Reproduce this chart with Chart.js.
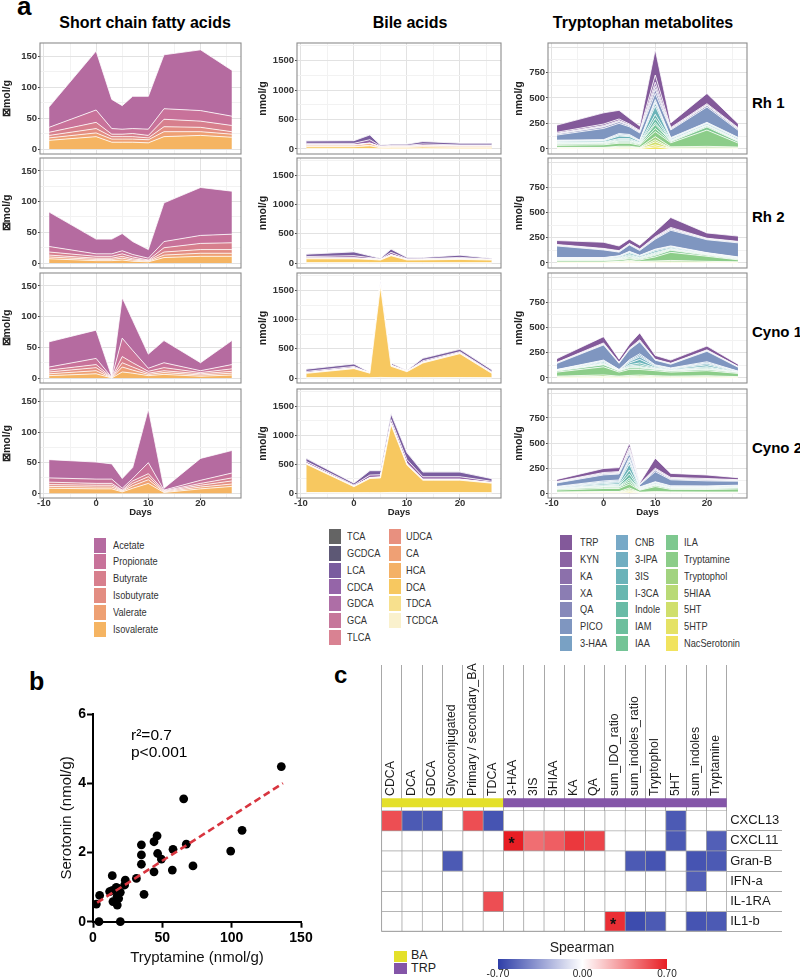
<!DOCTYPE html>
<html><head><meta charset="utf-8">
<script src="https://cdn.jsdelivr.net/npm/chart.js@4.4.1/dist/chart.umd.min.js"></script>
<style>
html,body{margin:0;padding:0;background:#fff;}
body{width:800px;height:978px;position:relative;overflow:hidden;font-family:'Liberation Sans',Arial,Helvetica,sans-serif;}
canvas{position:absolute;}
.t{position:absolute;white-space:nowrap;color:#000;line-height:1;}
.sq{position:absolute;}
</style></head><body>
<script>
// ===================== DATA =====================
const days = [-9, 0, 3, 5, 7, 10, 13, 20, 26];
const monkeyLabels = ['Rh 1', 'Rh 2', 'Cyno 1', 'Cyno 2'];
const groupTitles = ['Short chain fatty acids', 'Bile acids', 'Tryptophan metabolites'];

// Short chain fatty acids (µmol/g), legend order
const scfaNames = ['Acetate','Propionate','Butyrate','Isobutyrate','Valerate','Isovalerate'];
const scfaRh1 = [
  [33,95,47,38,52,53,87,98,74],
  [8,20,9,8,8,10,17,17,15],
  [5,10,4,4,5,4,12,10,10],
  [4,7,4,4,4,3,8,7,4],
  [4,6,5,5,5,5,8,6,5],
  [14,20,11,11,11,10,20,22,19]];
const scfaRh2 = [
  [56,24,24,28,21,14,63,78,70],
  [9,4,4,5,4,3,10,13,14],
  [5,3,3,4,3,1,7,10,11],
  [3,2,2,3,2,1,5,6,6],
  [3,2,2,3,2,1,4,5,5],
  [7,4,4,5,3,2,9,11,11]];
const scfaCyno1 = [
  [41,46,1,66,49,23,36,13,39],
  [5,10,0,30,20,5,8,3,7],
  [3,5,0.5,10,7,3,5,2,4],
  [3,5,0.2,7,5,2,3,2,3],
  [3,5,0.1,8,5,2,3,2,3],
  [4,7,0.2,10,8,4,6,3,5]];
const scfaCyno2 = [
  [30,28,25,16,18,88,3,36,37],
  [7,7,7,3,4,18,1,5,8],
  [4,3,3,1,4,5,1,3,5],
  [3,3,3,1,4,5,1,3,5],
  [3,3,3,1,4,6,1,3,4],
  [8,7,7,2,8,16,1,7,11]];

// Bile acids (nmol/g), legend order
const baNames = ['TCA','GCDCA','LCA','CDCA','GDCA','GCA','TLCA','UDCA','CA','HCA','DCA','TDCA','TCDCA'];
const baRh1 = [
  [2,2,3,1,1,1,2,1,1],[3,3,5,2,2,2,3,2,2],[40,45,80,15,20,20,40,30,30],[25,25,55,12,15,15,25,15,15],
  [3,3,4,2,2,2,3,2,2],[2,2,3,1,1,1,2,1,1],[1,1,1,1,1,1,1,1,1],[2,2,3,1,2,2,2,2,2],
  [20,20,30,10,10,10,15,15,15],[5,5,8,3,4,4,5,5,5],[35,35,50,18,25,25,30,25,25],[2,2,3,1,1,1,2,1,1],[1,1,1,1,1,1,1,1,1]];
const baRh2 = [
  [1,1,1,1,1,1,1,1,1],[3,4,2,2,4,2,2,3,2],[40,65,30,12,55,22,20,38,12],[25,38,18,6,38,12,10,22,6],
  [2,3,2,1,3,1,1,2,1],[1,2,1,1,1,1,1,1,1],[1,1,1,1,1,1,1,1,1],[1,1,1,1,1,1,1,1,1],
  [5,5,4,3,8,3,3,4,3],[4,4,4,3,6,3,3,4,3],[68,68,58,47,118,48,50,58,47],[3,3,3,3,5,3,3,3,3],[1,1,1,1,2,1,1,1,1]];
const baCyno1 = [
  [1,1,1,2,1,1,1,1,1],[2,3,1,5,2,1,3,3,2],[38,42,6,50,28,9,42,40,33],[22,22,2,22,10,4,22,18,16],
  [2,2,1,4,2,1,2,2,2],[1,1,0,2,1,0,1,1,1],[1,1,0,1,1,0,1,1,1],[1,2,0,3,1,1,2,2,1],
  [3,5,2,10,5,3,5,5,3],[3,5,2,10,5,3,5,5,3],[76,155,80,1560,195,104,252,410,76],[3,5,2,8,4,3,4,6,3],[1,1,1,3,2,1,2,2,1]];
const baCyno2 = [
  [2,1,2,2,3,2,2,2,1],[5,3,5,5,8,6,5,5,3],[50,32,75,70,100,120,80,80,45],[30,18,42,38,55,65,42,42,22],
  [3,2,3,3,5,5,3,3,2],[2,1,2,2,3,3,2,2,1],[1,1,1,1,2,2,1,1,1],[2,1,2,2,4,3,2,2,1],
  [5,3,5,5,10,8,5,5,3],[5,3,5,5,10,8,5,5,3],[490,105,245,255,1170,475,215,215,165],[8,5,6,5,10,8,7,7,5],[2,1,1,1,2,1,1,1,1]];

// Tryptophan metabolites (nmol/g), legend order
const trpNames = ['TRP','KYN','KA','XA','QA','PICO','3-HAA','CNB','3-IPA','3IS','I-3CA','Indole','IAM','IAA','ILA','Tryptamine','Tryptophol','5HIAA','5HT','5HTP','NacSerotonin'];
const trpRh1 = [
  [70,110,85,55,45,250,45,100,40],[10,15,15,10,8,70,8,10,8],[5,8,8,5,5,40,5,5,5],[3,5,5,3,3,30,3,3,3],
  [10,15,15,10,8,40,8,15,10],[50,110,100,75,70,60,75,150,70],[5,5,10,8,5,20,5,5,5],[3,3,5,5,3,15,3,3,3],
  [5,5,10,8,5,30,5,5,5],[10,10,25,20,10,80,10,10,10],[5,5,10,10,5,40,5,5,5],[5,5,10,10,5,40,5,5,5],
  [3,3,5,5,3,20,3,3,3],[5,5,10,10,5,40,5,10,5],[10,10,10,10,10,30,10,30,15],[20,25,30,30,20,50,40,160,40],
  [5,5,10,10,5,30,10,15,8],[3,3,5,5,3,20,3,3,3],[3,3,5,5,3,30,3,3,3],[2,2,3,3,2,20,2,2,2],[2,2,3,3,2,20,2,2,2]];
const trpRh2 = [
  [39,61,46,43,37,50,98,52,52],[5,5,5,5,5,8,10,5,5],[3,3,3,3,3,5,5,3,3],[2,2,2,2,2,3,3,2,2],
  [5,5,5,5,5,8,10,5,5],[115,76,36,63,47,99,155,128,139],[3,3,3,5,3,5,5,3,3],[2,2,2,3,2,3,3,2,2],
  [3,3,5,8,5,10,8,3,3],[5,5,8,15,10,15,10,5,5],[3,3,5,10,5,8,5,3,3],[3,3,5,10,5,8,5,3,3],
  [2,2,3,5,3,5,3,2,2],[3,3,5,10,5,8,5,5,3],[5,5,5,8,8,15,20,10,5],[15,15,15,15,15,40,80,50,20],
  [3,3,5,10,5,10,15,10,5],[2,2,3,5,3,3,3,2,2],[2,2,3,5,3,3,3,2,2],[1,1,2,3,2,2,2,1,1],[1,1,2,3,2,2,2,1,1]];
const trpCyno1 = [
  [37,62,31,40,68,37,31,37,21],[4,8,4,6,8,4,4,6,3],[2,4,2,3,4,2,2,3,2],[2,3,2,2,3,2,2,2,1],
  [2,5,2,4,5,2,2,4,2],[61,150,61,100,119,46,37,103,39],[2,6,2,10,15,5,4,10,2],[2,5,2,8,15,5,3,8,2],
  [3,8,3,14,25,8,5,13,3],[3,10,3,18,35,10,7,18,3],[2,6,2,10,20,6,4,10,2],[2,6,2,10,15,6,4,10,2],
  [1,3,1,5,8,3,2,4,1],[1,3,1,5,7,3,2,4,0],[10,20,10,15,15,12,10,12,8],[40,80,40,60,55,50,40,50,32],
  [8,15,8,12,12,10,8,10,6],[4,6,4,5,6,5,4,5,3],[3,5,3,4,5,3,3,3,2],[2,2,2,2,3,2,2,2,1],[1,2,1,2,3,2,1,2,1]];
const trpCyno2 = [
  [20,40,40,40,10,100,40,35,20],[5,8,8,20,3,10,8,8,5],[3,5,5,15,2,5,5,5,3],[2,3,3,10,2,5,3,3,2],
  [5,8,8,20,3,15,8,8,5],[35,60,60,40,20,100,60,50,40],[5,10,10,20,5,5,5,5,5],[3,8,8,15,3,3,3,3,3],
  [5,10,10,30,5,5,5,5,5],[5,12,15,60,5,8,5,5,5],[3,8,10,40,3,5,3,3,3],[3,8,10,40,3,5,3,3,3],
  [2,4,5,20,2,3,2,2,2],[2,4,5,20,2,3,2,2,2],[8,12,12,20,5,12,8,8,10],[20,30,30,40,20,50,25,25,30],
  [4,6,6,15,3,8,5,5,5],[2,3,3,10,2,2,2,2,2],[2,2,2,10,1,2,2,1,1],[1,2,2,8,1,1,1,1,1],[1,2,2,7,1,1,1,1,1]];

// Panel b: serotonin vs tryptamine
const tryptamineX = [2.4,4.8,4.3,12,13.9,13.7,15.6,14.4,16.8,18,17.3,17.5,18.5,19.7,19.7,22.8,23.3,31.3,34.9,34.9,34.9,36.8,44,44,46.2,46.6,49.3,57.7,57.2,65.4,67.3,72.1,99.3,107.5,135.8];
const serotoninY = [0.51,0.76,0,0.87,1.33,0.9,0.93,0.58,0.99,0.96,0.72,0.48,0.67,0,0.85,1.06,1.2,1.25,2.22,1.93,1.66,0.79,2.31,1.44,2.48,1.97,1.81,2.09,1.49,3.55,2.24,1.61,2.04,2.64,4.48];
const fitX = [3, 137];
const fitY = [0.55, 4.0];
const statLines = ['r\u00B2=0.7', 'p<0.001'];

// Panel c: Spearman heatmap
const heatCols = ['CDCA','DCA','GDCA','Glycoconjugated','Primary / secondary_BA','TDCA','3-HAA','3IS','5HIAA','KA','QA','sum_IDO_ratio','sum_indoles_ratio','Tryptophol','5HT','sum_indoles','Tryptamine'];
const heatColGroup = ['BA','BA','BA','BA','BA','BA','TRP','TRP','TRP','TRP','TRP','TRP','TRP','TRP','TRP','TRP','TRP'];
const heatRows = ['CXCL13','CXCL11','Gran-B','IFN-a','IL-1RA','IL1-b'];
const rhoCXCL13 = [0.55,-0.6,-0.6,0,0.55,-0.62,0,0,0,0,0,0,0,0,-0.6,0,0];
const rhoCXCL11 = [0,0,0,0,0,0,0.7,0.45,0.5,0.62,0.58,0,0,0,-0.6,0,-0.58];
const rhoGranB  = [0,0,0,-0.6,0,0,0,0,0,0,0,0,-0.6,-0.62,0,-0.62,-0.6];
const rhoIFNa   = [0,0,0,0,0,0,0,0,0,0,0,0,0,0,0,-0.58,0];
const rhoIL1RA  = [0,0,0,0,0,0.55,0,0,0,0,0,0,0,0,0,0,0];
const rhoIL1b   = [0,0,0,0,0,0,0,0,0,0,0,0.65,-0.65,-0.6,0,-0.62,-0.6];
const sigCells = [['CXCL11','3-HAA'], ['IL1-b','sum_IDO_ratio']];
const scaleTicks = ['-0.70','0.00','0.70'];

// ===================== STYLES / LAYOUT =====================
const FONT = "'Liberation Sans', Arial, Helvetica, sans-serif";
Chart.defaults.font.family = FONT;

const scfaColors = ['#b56ba0','#c8729a','#d77f8d','#e38d82','#eea073','#f5b462'];
const baColors = ['#646464','#5d5875','#7a5d9f','#9565a8','#ae6ea6','#c6779b','#d98292','#e8907f','#efa074','#f4b166','#f7c860','#f7e08d','#faf1cd'];
const trpColors = ['#83599a','#8b64a3','#8c70ab','#8b7db3','#8789ba','#7f96c0','#79a1c4','#77a9c7','#71aec1','#6bb3b9','#68b7b0','#69bba6','#6dbf9d','#74c496','#7ec88f','#8ccd89','#a2d380','#b9da76','#d0df6c','#e5e265','#f1e35f'];

const FRAME_L = [40, 297, 548], FRAME_W = [201, 204, 199], AXIS_W = [40, 41, 36];
const FRAME_T = [43, 158, 273, 389], FRAME_H = [111, 110, 110, 109];
const X_AXIS_H = 20;

function txt(s, x, base, size, o = {}) {
  const d = document.createElement('div');
  d.className = 't';
  d.textContent = s;
  d.style.fontSize = size + 'px';
  d.style.fontWeight = o.bold ? 'bold' : 'normal';
  d.style.fontFamily = o.family || FONT;
  d.style.top = (base - 0.8465 * size) + 'px';
  d.style.left = x + 'px';
  if (o.align === 'center') d.style.transform = 'translateX(-50%)';
  if (o.squeeze) { d.style.transform = 'scaleX(' + o.squeeze + ')'; d.style.transformOrigin = '0 0'; }
  if (o.color) d.style.color = o.color;
  document.body.appendChild(d);
  return d;
}
function box(x, y, w, h, bg) {
  const d = document.createElement('div');
  d.className = 'sq';
  Object.assign(d.style, {left: x + 'px', top: y + 'px', width: w + 'px', height: h + 'px', background: bg});
  document.body.appendChild(d);
  return d;
}
function mkCanvas(left, top, w, h) {
  const c = document.createElement('canvas');
  c.width = w; c.height = h;
  Object.assign(c.style, {left: left + 'px', top: top + 'px', width: w + 'px', height: h + 'px'});
  document.body.appendChild(c);
  return c;
}

const framePlugin = {
  id: 'frame',
  afterDraw(chart) {
    const {ctx, chartArea: a} = chart;
    ctx.save();
    ctx.strokeStyle = '#8c8c8c';
    ctx.lineWidth = 1.1;
    ctx.strokeRect(a.left, a.top, a.right - a.left, a.bottom - a.top);
    ctx.restore();
  }
};

const groups = [
  {names: scfaNames, colors: scfaColors, data: [scfaRh1, scfaRh2, scfaCyno1, scfaCyno2], ymin: -8, ymax: 171, step: 25, major: 50, maxLabel: 150, ytitle: '\u22A0mol/g'},
  {names: baNames, colors: baColors, data: [baRh1, baRh2, baCyno1, baCyno2], ymin: -85, ymax: 1800, step: 250, major: 500, maxLabel: 1500, ytitle: 'nmol/g'},
  {names: trpNames, colors: trpColors, data: [trpRh1, trpRh2, trpCyno1, trpCyno2], ymin: -50, ymax: 1040, step: 125, major: 250, maxLabel: 750, ytitle: 'nmol/g'}
];

function areaChart(col, row) {
  const g = groups[col];
  const last = row === 3;
  const padT = 1, padR = 1;
  const left = FRAME_L[col] - AXIS_W[col];
  const top = FRAME_T[row] - padT;
  const w = AXIS_W[col] + FRAME_W[col] + padR;
  const h = padT + FRAME_H[row] + (last ? X_AXIS_H : 1);
  const cv = mkCanvas(left, top, w, h);
  const series = g.data[row];
  const datasets = [];
  for (let k = g.names.length - 1; k >= 0; k--) {
    datasets.push({
      label: g.names[k],
      data: days.map((d, i) => ({x: d, y: series[k][i]})),
      backgroundColor: g.colors[k],
      borderColor: '#ffffff',
      borderWidth: 0.8,
      fill: datasets.length === 0 ? 'origin' : '-1',
      pointRadius: 0,
      tension: 0
    });
  }
  const majX = c => c.tick && Math.abs(c.tick.value % 10) < 1e-9;
  const majY = c => c.tick && Math.abs(c.tick.value % g.major) < 1e-9;
  const labY = v => Math.abs(v % g.major) < 1e-9 && v <= g.maxLabel;
  new Chart(cv, {
    type: 'line',
    data: {datasets},
    options: {
      responsive: false, animation: false, devicePixelRatio: 1,
      layout: {padding: {top: padT, right: padR, left: 0, bottom: last ? 0 : 1}},
      plugins: {legend: {display: false}, tooltip: {enabled: false}},
      scales: {
        x: {
          type: 'linear', min: -10.75, max: 27.75,
          ticks: {display: last, stepSize: 5, includeBounds: false, autoSkip: false, maxRotation: 0, padding: -2,
                  font: {size: 9.5, weight: 'bold'}, color: '#333',
                  callback: v => (Math.abs(v % 10) < 1e-9 ? String(v) : '')},
          grid: {color: c => majX(c) ? '#e2e2e2' : '#f2f2f2', lineWidth: 1, drawTicks: last, tickLength: 2,
                 tickColor: c => majX(c) ? '#444' : 'rgba(0,0,0,0)'},
          border: {display: false},
          title: {display: last, text: 'Days', font: {size: 9.5, weight: 'bold'}, color: '#222', padding: {top: 0, bottom: 0}},
          afterFit: s => { s.height = last ? X_AXIS_H : 0; s.paddingLeft = 0; s.paddingRight = 0; }
        },
        y: {
          stacked: true, min: g.ymin, max: g.ymax,
          ticks: {stepSize: g.step, includeBounds: false, padding: 1, autoSkip: false,
                  font: {size: 9.5, weight: 'bold'}, color: '#333',
                  callback: v => (labY(v) ? String(v) : '')},
          grid: {color: c => majY(c) ? '#e2e2e2' : '#f2f2f2', lineWidth: 1, tickLength: 2,
                 tickColor: c => (c.tick && labY(c.tick.value)) ? '#444' : 'rgba(0,0,0,0)'},
          border: {display: false},
          title: {display: true, text: g.ytitle, font: {size: 10.5, weight: 'bold'}, color: '#222', padding: {top: 1.2, bottom: 0}},
          afterFit: s => { s.width = AXIS_W[col]; s.paddingTop = 0; s.paddingBottom = 0; }
        }
      }
    },
    plugins: [framePlugin]
  });
}

// ---------- Panel a ----------
txt('a', 17, 15, 26, {bold: true});
const titleCenters = [145, 410, 643];
groupTitles.forEach((t, i) => txt(t, titleCenters[i], 28.5, 16, {bold: true, align: 'center'}));
for (let c = 0; c < 3; c++) for (let r = 0; r < 4; r++) areaChart(c, r);
monkeyLabels.forEach((m, r) => txt(m, 752, FRAME_T[r] + FRAME_H[r] / 2 + 9, 15, {bold: true}));

// legends
function legendColumn(names, colors, sqX, txtX, top0) {
  names.forEach((n, i) => {
    const y = top0 + i * 16.8;
    box(sqX, y, 12, 15, colors[i]);
    txt(n, txtX, y + 11.5, 11, {color: '#333', squeeze: 0.84});
  });
}
legendColumn(scfaNames, scfaColors, 94, 113, 537.5);
legendColumn(baNames.slice(0, 7), baColors.slice(0, 7), 329, 347, 529);
legendColumn(baNames.slice(7), baColors.slice(7), 389, 406, 529);
legendColumn(trpNames.slice(0, 7), trpColors.slice(0, 7), 560, 580, 535);
legendColumn(trpNames.slice(7, 14), trpColors.slice(7, 14), 616, 635, 535);
legendColumn(trpNames.slice(14), trpColors.slice(14), 666, 684, 535);

// ---------- Panel b ----------
txt('b', 29, 690, 25, {bold: true});
(function () {
  const cv = mkCanvas(50, 700, 265, 275);
  new Chart(cv, {
    type: 'scatter',
    data: {datasets: [
      {type: 'line', data: fitX.map((x, i) => ({x, y: fitY[i]})), borderColor: '#d8353f', borderWidth: 2.6,
       borderDash: [7, 4], pointRadius: 0, fill: false, tension: 0},
      {data: tryptamineX.map((x, i) => ({x, y: serotoninY[i]})), backgroundColor: '#000', borderColor: '#000',
       pointRadius: 4.4, borderWidth: 0, clip: 8}
    ]},
    options: {
      responsive: false, animation: false, devicePixelRatio: 1,
      layout: {padding: {top: 14, right: 14, left: 0, bottom: 0}},
      plugins: {legend: {display: false}, tooltip: {enabled: false}},
      scales: {
        x: {type: 'linear', min: 0, max: 150,
            ticks: {stepSize: 50, font: {size: 14, weight: 'bold'}, color: '#000', padding: 2, maxRotation: 0},
            grid: {display: true, drawOnChartArea: false, drawTicks: true, tickLength: 6, tickWidth: 2, tickColor: '#000'},
            border: {display: true, width: 2, color: '#000'},
            title: {display: true, text: 'Tryptamine (nmol/g)', font: {size: 15}, color: '#111', padding: {top: 0, bottom: 8}},
            afterFit: s => { s.height = 53.3; s.paddingLeft = 0; s.paddingRight = 0; }},
        y: {min: 0, max: 6,
            ticks: {stepSize: 2, font: {size: 14, weight: 'bold'}, color: '#000', padding: 1},
            grid: {display: true, drawOnChartArea: false, drawTicks: true, tickLength: 6, tickWidth: 2, tickColor: '#000'},
            border: {display: true, width: 2, color: '#000'},
            title: {display: true, text: 'Serotonin (nmol/g)', font: {size: 15}, color: '#111', padding: {top: 7.7, bottom: 0}},
            afterFit: s => { s.width = 43; s.paddingTop = 0; s.paddingBottom = 0; }}
      }
    }
  });
})();
txt(statLines[0], 131, 740, 15.5);
txt(statLines[1], 131, 757, 15.5);

// ---------- Panel c ----------
txt('c', 334, 683, 24, {bold: true});
const heatValues = [rhoCXCL13, rhoCXCL11, rhoGranB, rhoIFNa, rhoIL1RA, rhoIL1b];
function heatColor(v) {
  const t = Math.max(-1, Math.min(1, v / 0.7));
  const end = t < 0 ? [46, 62, 168] : [232, 30, 36];
  const a = Math.abs(t);
  return 'rgb(' + [0, 1, 2].map(i => Math.round(255 + (end[i] - 255) * a)).join(',') + ')';
}
const starPlugin = {
  id: 'stars',
  afterDatasetsDraw(chart) {
    const {ctx, scales: {x, y}} = chart;
    ctx.save();
    ctx.fillStyle = '#111';
    ctx.font = 'bold 16px ' + FONT;
    ctx.textAlign = 'center';
    ctx.textBaseline = 'middle';
    sigCells.forEach(([rn, cn]) => {
      const ri = heatRows.indexOf(rn), ci = heatCols.indexOf(cn);
      ctx.fillText('*', x.getPixelForValue(ci) - 2, y.getPixelForValue(5.5 - ri) + 4);
    });
    ctx.restore();
  }
};
(function () {
  const cv = mkCanvas(370, 655, 430, 285);
  const datasets = heatRows.map((r, ri) => ({
    label: r,
    data: heatCols.map(() => [5 - ri, 6 - ri]),
    backgroundColor: heatValues[ri].map(heatColor),
    borderColor: '#a3a3a3', borderWidth: 0.7, borderSkipped: false,
    barPercentage: 1, categoryPercentage: 1, grouped: false
  }));
  datasets.push({
    label: 'group',
    data: heatCols.map(() => [6.18, 6.61]),
    backgroundColor: heatColGroup.map(gp => gp === 'BA' ? '#e4e02a' : '#8455a8'),
    borderWidth: 0, barPercentage: 1, categoryPercentage: 1, grouped: false
  });
  new Chart(cv, {
    type: 'bar',
    data: {labels: heatCols, datasets},
    options: {
      responsive: false, animation: false, devicePixelRatio: 1,
      layout: {padding: {left: 11.7, top: 0, right: 0, bottom: 8.3}},
      plugins: {legend: {display: false}, tooltip: {enabled: false}},
      scales: {
        x: {position: 'top', offset: true,
            grid: {offset: true, color: '#a8a8a8', lineWidth: 1, tickLength: 133.3, drawOnChartArea: true},
            border: {display: false},
            ticks: {autoSkip: false, minRotation: 90, maxRotation: 90, padding: -131, labelOffset: 14,
                    font: {size: 12.3}, color: '#1a1a1a'},
            afterFit: s => { s.height = 143.3; s.paddingLeft = 0; s.paddingRight = 0; }},
        y: {position: 'right', min: 0, max: 6.61, stacked: false,
            afterBuildTicks: s => { s.ticks = [0, 0.5, 1, 1.5, 2, 2.5, 3, 3.5, 4, 4.5, 5, 5.5].map(v => ({value: v})); },
            grid: {color: c => (c.tick && Number.isInteger(c.tick.value)) ? '#a8a8a8' : 'rgba(0,0,0,0)', tickLength: 55.3, drawOnChartArea: true},
            border: {display: false},
            ticks: {autoSkip: false, padding: -51.8, font: {size: 13}, color: '#1a1a1a',
                    callback: v => Number.isInteger(v) ? '' : heatRows[5 - Math.floor(v)]},
            afterFit: s => { s.width = 73.3; s.paddingTop = 0; s.paddingBottom = 0; }}
      }
    },
    plugins: [starPlugin]
  });
})();
// annotation legend
box(394, 950.5, 13, 11, '#e4e02a');
box(394, 963, 13, 11, '#8455a8');
txt('BA', 411, 960, 12.5, {color: '#222'});
txt('TRP', 411, 973, 12.5, {color: '#222'});
// colour scale
txt('Spearman', 582, 952, 14, {align: 'center', color: '#222'});
box(498, 959, 169, 9.5, 'linear-gradient(to right, rgb(46,62,168), #ffffff, rgb(232,30,36))');
[498, 582.5, 667].forEach((x, i) => txt(scaleTicks[i], x, 977, 10, {align: 'center', color: '#222'}));
</script>
</body></html>
